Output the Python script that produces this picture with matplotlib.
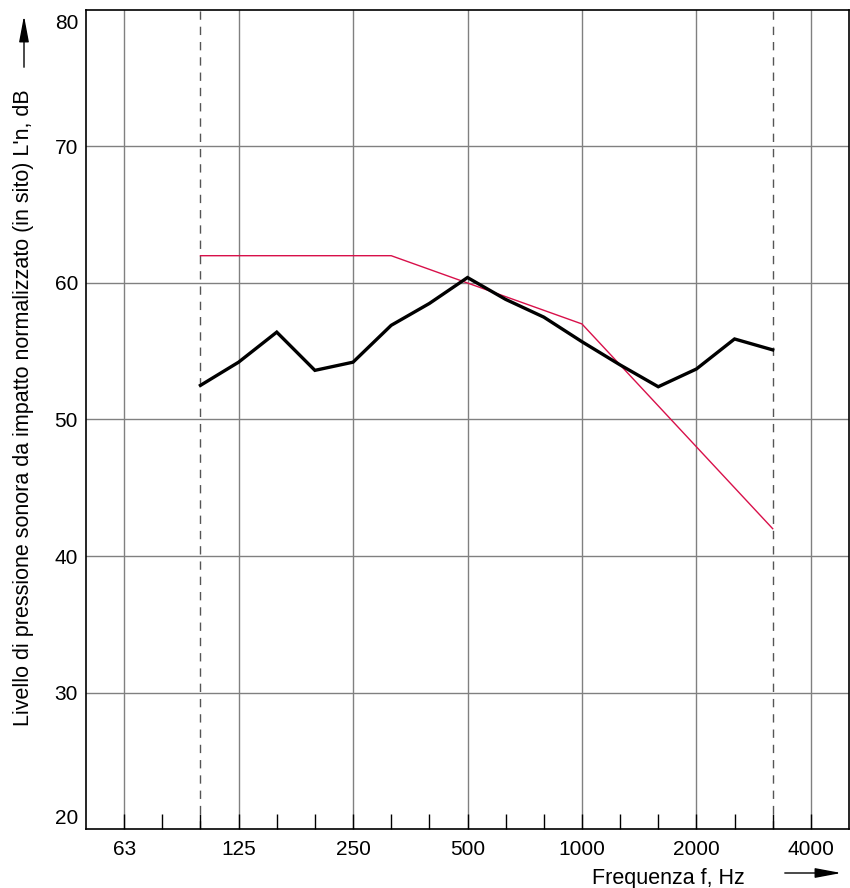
import matplotlib
matplotlib.use("Agg")
import matplotlib.pyplot as plt
from matplotlib.patches import FancyArrowPatch
from matplotlib.transforms import offset_copy

plt.rcParams['font.family'] = ['Liberation Sans', 'DejaVu Sans']

# Third-octave band centre frequencies (axis positions are band indices)
bands = ["50", "63", "80", "100", "125", "160", "200", "250", "315", "400", "500",
         "630", "800", "1000", "1250", "1600", "2000", "2500", "3150", "4000", "5000"]
tick_labels = ["63", "125", "250", "500", "1000", "2000", "4000"]
y_ticks = [20, 30, 40, 50, 60, 70, 80]

# Measured L'n (100 Hz .. 3150 Hz)
meas_bands = ["100", "125", "160", "200", "250", "315", "400", "500",
              "630", "800", "1000", "1250", "1600", "2000", "2500", "3150"]
measured = [52.5, 54.2, 56.4, 53.6, 54.2, 56.9, 58.5, 60.4,
            58.8, 57.5, 55.7, 54.0, 52.4, 53.7, 55.9, 55.1]
# Shifted reference curve (ISO 717-2)
reference = [62, 62, 62, 62, 62, 62, 61, 60, 59, 58, 57, 54, 51, 48, 45, 42]

pos = {b: i for i, b in enumerate(bands)}
xm = [pos[b] for b in meas_bands]

W, H = 850, 888
fig = plt.figure(figsize=(W / 100, H / 100), dpi=100)
ax = fig.add_axes([86 / W, 1 - 829 / H, (849 - 86) / W, (829 - 10) / H])

ax.set_xlim(0, len(bands) - 1)
ax.set_ylim(20, 80)

# grid
for t in tick_labels:
    ax.axvline(pos[t], color="#808080", lw=1.0, zorder=1)
for y in y_ticks[1:-1]:
    ax.axhline(y, color="#808080", lw=1.0, zorder=1)
for b in ("100", "3150"):
    ax.axvline(pos[b], color="#555555", lw=1.0, ls=(0, (6, 5)), zorder=1)

ax.plot(xm, reference, color="#d8104a", lw=1.0, zorder=3)
ax.plot(xm, measured, color="black", lw=2.4, zorder=4, solid_joinstyle="miter")

ax.set_xticks(range(1, len(bands) - 1))
ax.set_xticklabels([b if b in tick_labels else "" for b in bands[1:-1]], fontsize=15)
ax.tick_params(axis="x", direction="in", length=11, width=1.0, color="black", pad=8)
ax.set_yticks(y_ticks)
ax.set_yticklabels([])
ax.tick_params(axis="y", length=0)
ytr = ax.get_yaxis_transform()
for v in y_ticks:
    if v == y_ticks[-1]:
        tr, va = offset_copy(ytr, fig=fig, x=-8, y=-4, units="dots"), "top"
    elif v == y_ticks[0]:
        tr, va = offset_copy(ytr, fig=fig, x=-8, y=1, units="dots"), "bottom"
    else:
        tr, va = offset_copy(ytr, fig=fig, x=-8, y=0, units="dots"), "center_baseline"
    ax.text(0, v, str(v), transform=tr, ha="right", va=va, fontsize=15)

for s in ax.spines.values():
    s.set_color("black")
    s.set_linewidth(1.2)

# axis labels with arrows
fig.text(24 / W, 1 - 408 / H, "Livello di pressione sonora da impatto normalizzato (in sito) L'n, dB",
         rotation=90, ha="center", va="center", fontsize=15.5)
fig.add_artist(FancyArrowPatch(
    (24 / W, 1 - 70 / H), (24 / W, 1 - 13 / H), transform=fig.transFigure,
    arrowstyle="-|>,head_length=16,head_width=3", color="black", lw=1.0, mutation_scale=1))
fig.text(668 / W, 1 - 878 / H, "Frequenza f, Hz", ha="center", va="center", fontsize=15.5)
fig.add_artist(FancyArrowPatch(
    (782 / W, 1 - 873 / H), (844 / W, 1 - 873 / H), transform=fig.transFigure,
    arrowstyle="-|>,head_length=16,head_width=3", color="black", lw=1.0, mutation_scale=1))

fig.savefig("out.png", dpi=100)
